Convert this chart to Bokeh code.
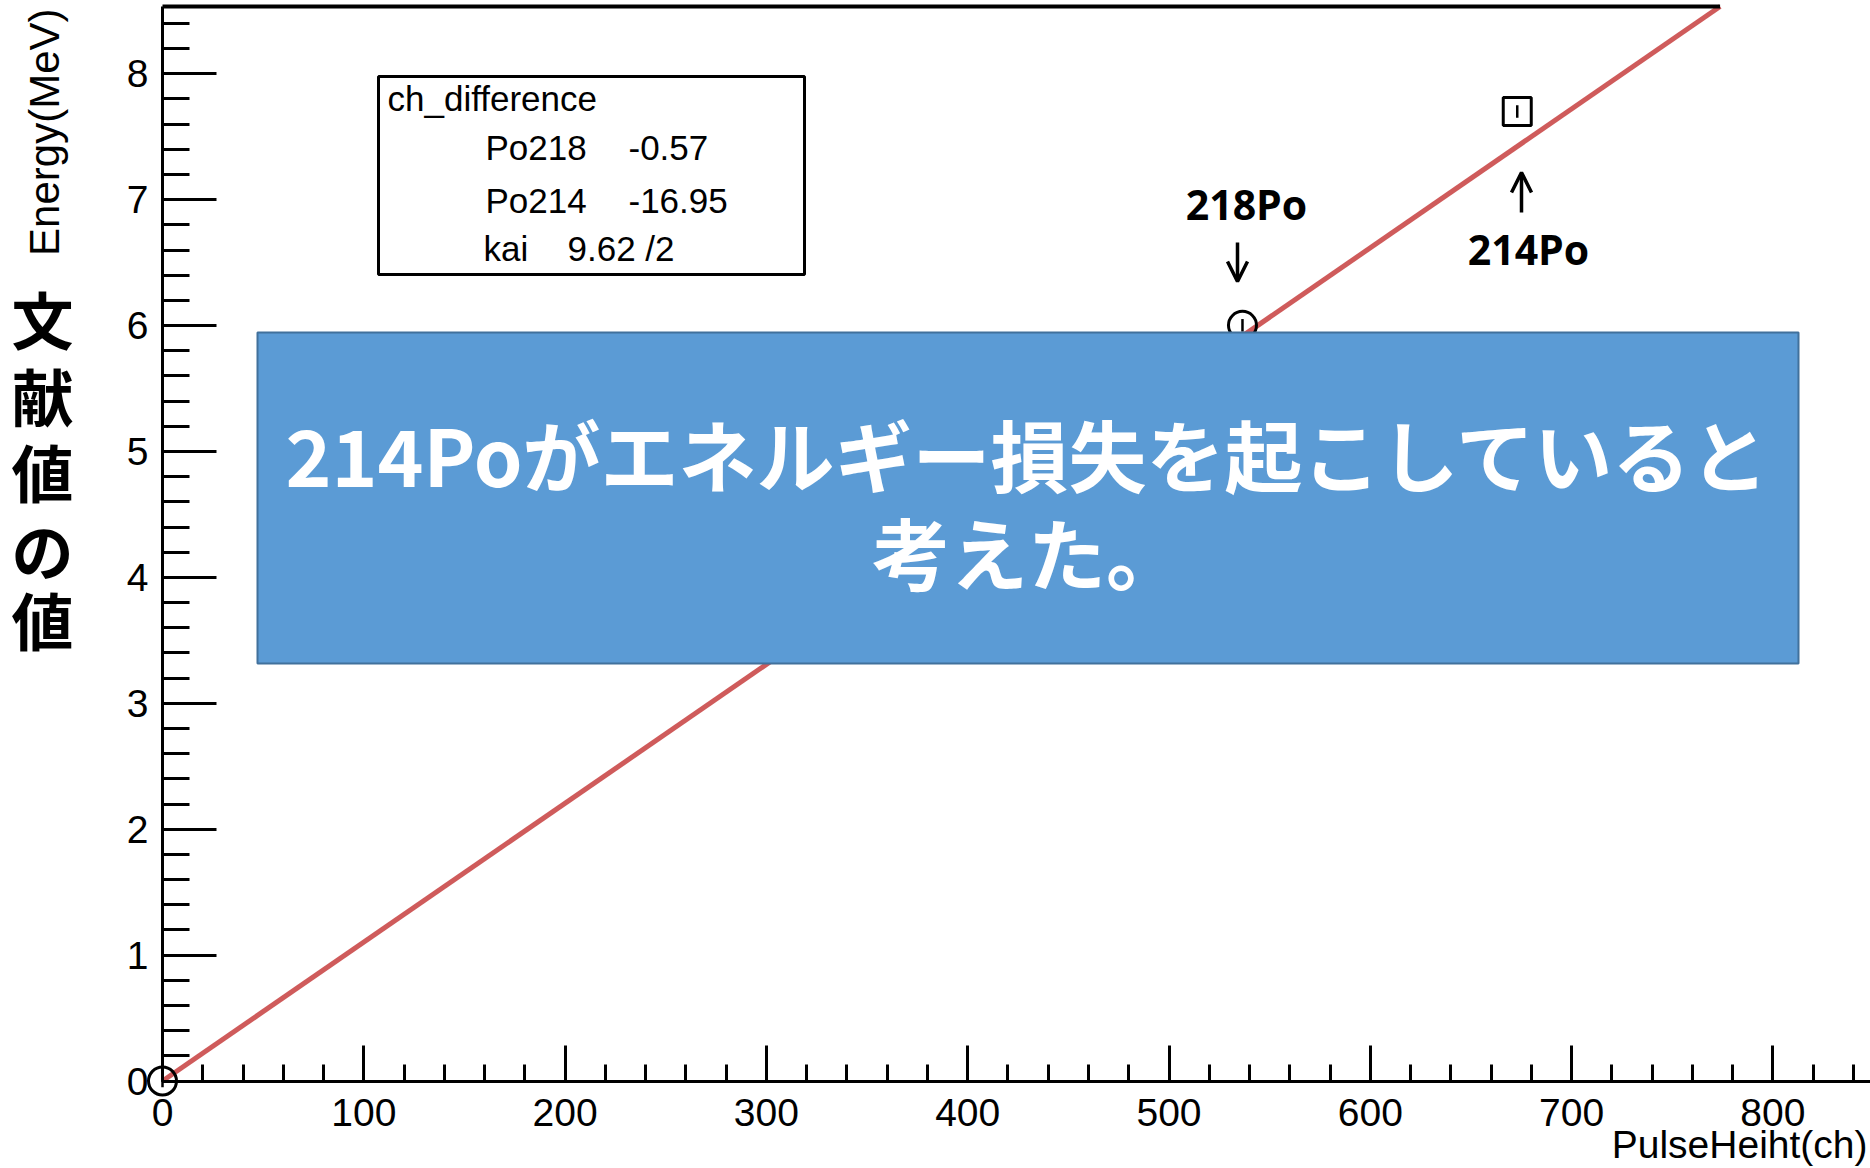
import numpy as np
from bokeh.plotting import figure
from bokeh.models import (Range1d, SingleIntervalTicker, Label, BoxAnnotation,
                          Arrow, OpenHead, ColumnDataSource)
from bokeh.embed import file_html
from bokeh.resources import INLINE

# ---------------- data ----------------
point_names = ["origin", "Po218", "Po214"]
pulse_height = [0.0, 536.5, 673.0]          # ch
energy_mev = [0.0, 6.002, 7.70]             # MeV (literature)
energy_err = [0.05, 0.05, 0.05]
point_markers = ["circle", "circle", "square"]

fit_slope = 0.01103       # MeV / ch
fit_intercept = 0.0

legend_title = "ch_difference"
legend_names = ["Po218", "Po214"]
legend_values = ["-0.57", "-16.95"]
chi2_name = "kai"
chi2_text = "9.62 /2"

peak_labels = ["218Po", "214Po"]
x_label = "PulseHeiht(ch)"
y_label = "Energy(MeV)"
ja_axis_chars = ["文", "献", "値", "の", "値"]
box_lines = ["214Poがエネルギー損失を起こしていると", "考えた。"]

# --------- helpers: page pixel -> data coordinates (layout only) ---------
X0_PX, KX = 162.0, 2.013      # x=0 at px 162, px per ch
Y0_PX, KY = 1080.5, 125.9     # y=0 at px 1080.5, px per MeV

def dx(px):
    return (px - X0_PX) / KX

def dy(py):
    return (Y0_PX - py) / KY

W, H = 1870, 1166
X_AXIS_END = dx(W)            # axis runs to the right edge
Y_TOP = dy(6)                 # top frame line

p = figure(width=W, height=H,
           x_range=Range1d(dx(0), dx(W)), y_range=Range1d(dy(H), dy(0)),
           output_backend="svg", toolbar_location=None,
           min_border_left=0, min_border_right=0,
           min_border_top=0, min_border_bottom=0)
p.xgrid.visible = False
p.ygrid.visible = False
p.outline_line_color = None
p.background_fill_color = "white"
p.border_fill_color = "white"

AX_FONT = "Liberation Sans"
for ax in (p.xaxis[0], p.yaxis[0]):
    ax.fixed_location = 0
    ax.axis_line_width = 3
    ax.axis_line_color = "black"
    ax.major_tick_line_width = 3
    ax.minor_tick_line_width = 3
    ax.major_tick_line_color = "black"
    ax.minor_tick_line_color = "black"
    ax.major_tick_out = 0
    ax.minor_tick_out = 0
    ax.major_label_text_font = AX_FONT
    ax.major_label_text_font_size = "39px"
    ax.major_label_text_color = "black"

p.xaxis.bounds = (0, X_AXIS_END)
p.yaxis.bounds = (0, Y_TOP)
p.xaxis.ticker = SingleIntervalTicker(interval=100, num_minor_ticks=5)
p.yaxis.ticker = SingleIntervalTicker(interval=1, num_minor_ticks=5)
p.xaxis.major_tick_in = 36
p.xaxis.minor_tick_in = 17
p.yaxis.major_tick_in = 54
p.yaxis.minor_tick_in = 27
p.xaxis.major_label_standoff = 18
p.yaxis.major_label_standoff = 14

# fit line, drawn up to the top of the frame
x_cross = (Y_TOP - fit_intercept) / fit_slope
fx = np.array([0.0, x_cross])
fy = fit_slope * fx + fit_intercept
p.line(fx, fy, line_color="#CF5B5B", line_width=5)

# top frame line up to where the fit leaves the frame
p.segment(x0=[0], y0=[Y_TOP], x1=[x_cross], y1=[Y_TOP], line_color="black", line_width=4)

# data points with error bars
src = ColumnDataSource(dict(x=pulse_height, y=energy_mev, m=point_markers,
                            lo=[e - s for e, s in zip(energy_mev, energy_err)],
                            hi=[e + s for e, s in zip(energy_mev, energy_err)]))
p.segment(x0="x", y0="lo", x1="x", y1="hi", source=src, line_color="black", line_width=2.5)
p.scatter(x="x", y="y", marker="m", source=src, size=28, fill_color=None,
          line_color="black", line_width=3)

# stats box
p.add_layout(BoxAnnotation(left=dx(378), right=dx(804), top=dy(76), bottom=dy(274),
                           fill_color="white", fill_alpha=1.0,
                           line_color="black", line_width=3, line_alpha=1.0))
LEG = dict(text_font=AX_FONT, text_font_size="35px", text_color="black",
           text_baseline="middle", text_align="left")
p.add_layout(Label(x=dx(387), y=dy(98), text=legend_title, **LEG))
for name, val, yy in zip(legend_names, legend_values, [147, 200]):
    p.add_layout(Label(x=dx(485), y=dy(yy), text=name, **LEG))
    p.add_layout(Label(x=dx(628), y=dy(yy), text=val, **LEG))
p.add_layout(Label(x=dx(483), y=dy(248), text=chi2_name, **LEG))
p.add_layout(Label(x=dx(567), y=dy(248), text=chi2_text, **LEG))

# peak annotations
PK = dict(text_font="Open Sans", text_font_style="bold", text_font_size="41px",
          text_color="black", text_align="center", text_baseline="middle")
p.add_layout(Label(x=dx(1246), y=dy(203), text=peak_labels[0], **PK))
p.add_layout(Label(x=dx(1528), y=dy(248), text=peak_labels[1], **PK))
p.add_layout(Arrow(end=OpenHead(size=20, line_width=3.5, line_color="black"),
                   x_start=dx(1237), y_start=dy(242), x_end=dx(1237), y_end=dy(281),
                   line_width=3.5, line_color="black"))
p.add_layout(Arrow(end=OpenHead(size=20, line_width=3.5, line_color="black"),
                   x_start=dx(1521), y_start=dy(212), x_end=dx(1521), y_end=dy(172),
                   line_width=3.5, line_color="black"))

# blue overlay box with message
p.add_layout(BoxAnnotation(left=dx(257), right=dx(1798), top=dy(332), bottom=dy(663),
                           fill_color="#5B9BD5", fill_alpha=1.0,
                           line_color="#41719C", line_width=2, line_alpha=1.0))
BX = dict(text_font="Noto Sans CJK JP", text_font_style="bold",
          text_font_size="78px", text_color="white",
          text_align="center", text_baseline="middle")
cx = dx((257 + 1798) / 2)
p.add_layout(Label(x=cx, y=dy(452), text=box_lines[0], **BX))
p.add_layout(Label(x=cx, y=dy(550), text=box_lines[1], **BX))

# axis titles (ROOT style placement)
p.add_layout(Label(x=dx(44), y=dy(8), text=y_label, angle=np.pi / 2,
                   text_font=AX_FONT, text_font_size="42px", text_color="black",
                   text_align="right", text_baseline="middle"))
p.add_layout(Label(x=dx(1867), y=dy(H - 1), text=x_label,
                   text_font=AX_FONT, text_font_size="39px", text_color="black",
                   text_align="right", text_baseline="bottom"))
for ch, yy in zip(ja_axis_chars, [317, 394, 470, 548, 618]):
    p.add_layout(Label(x=dx(42), y=dy(yy), text=ch,
                       text_font="Noto Sans CJK JP", text_font_style="bold",
                       text_font_size="62px", text_color="black",
                       text_align="center", text_baseline="middle"))

open("out.html", "w").write(file_html(p, INLINE))
